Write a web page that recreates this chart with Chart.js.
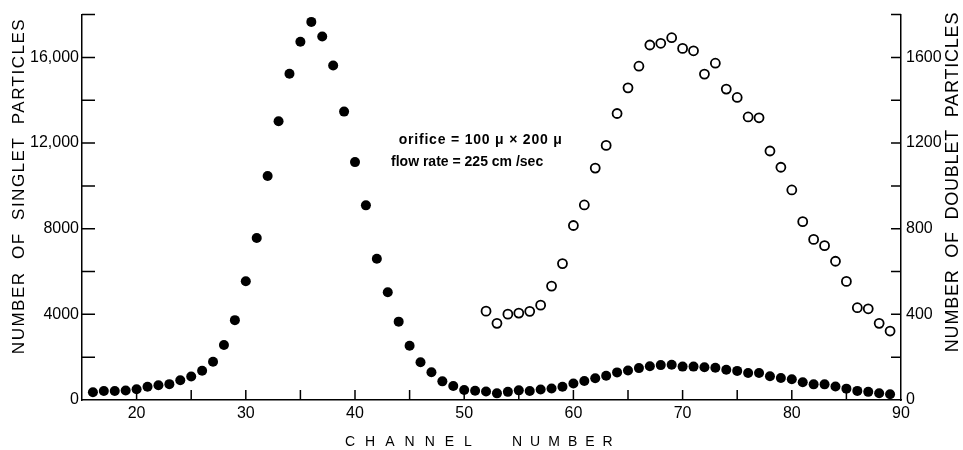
<!DOCTYPE html>
<html>
<head>
<meta charset="utf-8">
<script src="https://cdn.jsdelivr.net/npm/chart.js@4.4.1/dist/chart.umd.min.js"></script>
<style>
    html, body { margin: 0; padding: 0; background: #fff; }
</style>
</head>
<body>
<canvas id="particleChart" width="963" height="450"></canvas>
<script>

const FONT = "'Liberation Sans', Arial, sans-serif";

// singlet particles (filled dots, left axis)
const singletChannels = [16, 17, 18, 19, 20, 21, 22, 23, 24, 25, 26, 27, 28, 29, 30, 31, 32, 33, 34, 35,
    36, 37, 38, 39, 40, 41, 42, 43, 44, 45, 46, 47, 48, 49, 50, 51, 52, 53, 54, 55,
    56, 57, 58, 59, 60, 61, 62, 63, 64, 65, 66, 67, 68, 69, 70, 71, 72, 73, 74, 75,
    76, 77, 78, 79, 80, 81, 82, 83, 84, 85, 86, 87, 88, 89];
const singletCounts = [360, 420, 420, 440, 500, 620, 690, 740, 920, 1100, 1370, 1790, 2570, 3730, 5550, 7570, 10460, 13020, 15240, 16730,
    17660, 16980, 15620, 13470, 11110, 9090, 6600, 5030, 3660, 2530, 1760, 1300, 870, 650, 470, 430, 400, 310, 380, 450,
    420, 490, 540, 620, 770, 890, 1020, 1130, 1290, 1380, 1490, 1580, 1630, 1650, 1560, 1560, 1530, 1510, 1410, 1360,
    1260, 1260, 1110, 1030, 970, 830, 730, 730, 630, 530, 425, 380, 315, 270];

// doublet particles (open circles, right axis)
const doubletChannels = [52, 53, 54, 55, 56, 57, 58, 59, 60, 61, 62, 63, 64, 65, 66, 67, 68, 69, 70,
    71, 72, 73, 74, 75, 76, 77, 78, 79, 80, 81, 82, 83, 84, 85, 86, 87, 88, 89];
const doubletCounts = [415, 358, 401, 406, 414, 443, 532, 637, 815, 911, 1083, 1189, 1338, 1458, 1559, 1658, 1666, 1692, 1642,
    1631, 1522, 1573, 1452, 1413, 1322, 1318, 1163, 1087, 981, 833, 750, 721, 648, 554, 431, 426, 358, 322];

// tick labels
const xTickValues = [20, 30, 40, 50, 60, 70, 80, 90];
const xTickLabels = ["20", "30", "40", "50", "60", "70", "80", "90"];
const leftTickValues = [0, 4000, 8000, 12000, 16000];
const leftTickLabels = ["0", "4000", "8000", "12,000", "16,000"];
const rightTickValues = [0, 400, 800, 1200, 1600];
const rightTickLabels = ["0", "400", "800", "1200", "1600"];

const notes = ["orifice = 100 \u03bc \u00d7 200 \u03bc", "flow rate = 225 cm /sec"];


function toPoints(xs, ys) {
    return xs.map((x, i) => ({ x: x, y: ys[i] }));
}

function pickLabel(values, labels) {
    return function(value) {
        const i = values.indexOf(value);
        return i >= 0 ? labels[i] : "";
    };
}


// ticks in the original point inward, so they are drawn here
const inwardTicks = {
    id: "inwardTicks",
    beforeDatasetsDraw(chart) {
        const { ctx, chartArea } = chart;
        const x = chart.scales.x;
        const yL = chart.scales.yL;
        const yR = chart.scales.yR;

        ctx.save();
        ctx.strokeStyle = "#000";
        ctx.lineWidth = 1.5;
        ctx.beginPath();

        x.ticks.forEach(t => {
            if (t.value <= x.min || t.value >= x.max) return;
            const px = x.getPixelForValue(t.value);
            ctx.moveTo(px, chartArea.bottom);
            ctx.lineTo(px, chartArea.bottom - 10);
        });

        yL.ticks.forEach(t => {
            if (t.value <= yL.min) return;
            const py = yL.getPixelForValue(t.value);
            ctx.moveTo(chartArea.left, py);
            ctx.lineTo(chartArea.left + 13, py);
        });

        yR.ticks.forEach(t => {
            if (t.value <= yR.min) return;
            const py = yR.getPixelForValue(t.value);
            ctx.moveTo(chartArea.right, py);
            ctx.lineTo(chartArea.right - 10, py);
        });

        ctx.stroke();
        ctx.restore();
    }
};


const titlesAndNotes = {
    id: "titlesAndNotes",
    afterDraw(chart) {
        const { ctx } = chart;
        const x = chart.scales.x;
        const yL = chart.scales.yL;

        ctx.save();
        ctx.fillStyle = "#000";
        ctx.textBaseline = "middle";

        // left axis title
        ctx.font = "17px " + FONT;
        ctx.letterSpacing = "1.5px";
        ctx.textAlign = "center";
        ctx.save();
        ctx.translate(19, 186);
        ctx.rotate(-Math.PI / 2);
        ctx.fillText("NUMBER  OF  SINGLET  PARTICLES", 0, 0);
        ctx.restore();

        // right axis title, reads bottom to top like the left one
        ctx.font = "18px " + FONT;
        ctx.letterSpacing = "0.8px";
        ctx.save();
        ctx.translate(953, 182);
        ctx.rotate(-Math.PI / 2);
        ctx.fillText("NUMBER  OF  DOUBLET  PARTICLES", 0, 0);
        ctx.restore();

        // x axis title
        ctx.font = "14px " + FONT;
        ctx.textAlign = "left";
        ctx.letterSpacing = "10px";
        ctx.fillText("CHANNEL", 345, 442);
        ctx.letterSpacing = "8px";
        ctx.fillText("NUMBER", 512, 442);

        // notes inside the plot
        ctx.font = "bold 14px " + FONT;
        ctx.letterSpacing = "0.8px";
        ctx.fillText(notes[0], x.getPixelForValue(44.0), yL.getPixelForValue(12150));
        ctx.letterSpacing = "0px";
        ctx.fillText(notes[1], x.getPixelForValue(43.3), yL.getPixelForValue(11100));

        ctx.restore();
    }
};


const ctx = document.getElementById("particleChart");

new Chart(ctx, {
    type: "scatter",
    data: {
        datasets: [
            {
                label: "Singlet",
                data: toPoints(singletChannels, singletCounts),
                yAxisID: "yL",
                pointRadius: 5,
                pointBackgroundColor: "#000",
                pointBorderColor: "#000",
                pointBorderWidth: 0,
                showLine: false
            },
            {
                label: "Doublet",
                data: toPoints(doubletChannels, doubletCounts),
                yAxisID: "yR",
                pointRadius: 4.5,
                pointBackgroundColor: "#fff",
                pointBorderColor: "#000",
                pointBorderWidth: 1.8,
                showLine: false
            }
        ]
    },
    options: {
        responsive: false,
        animation: false,
        layout: {
            padding: { top: 12, left: 0, right: 0, bottom: 0 }
        },
        plugins: {
            legend: { display: false },
            tooltip: { enabled: false }
        },
        scales: {
            x: {
                type: "linear",
                min: 15,
                max: 90,
                afterFit: scale => { scale.height = 50; },
                border: { display: true, color: "#000", width: 1.5 },
                grid: { display: false, drawTicks: false },
                ticks: {
                    stepSize: 5,
                    autoSkip: false,
                    maxRotation: 0,
                    padding: 4,
                    color: "#000",
                    font: { family: FONT, size: 16 },
                    callback: pickLabel(xTickValues, xTickLabels)
                }
            },
            yL: {
                type: "linear",
                position: "left",
                min: 0,
                max: 18000,
                afterFit: scale => { scale.width = 82; },
                border: { display: true, color: "#000", width: 1.5 },
                grid: { display: false, drawTicks: false },
                ticks: {
                    stepSize: 2000,
                    autoSkip: false,
                    padding: 3,
                    color: "#000",
                    font: { family: FONT, size: 16 },
                    callback: pickLabel(leftTickValues, leftTickLabels)
                }
            },
            yR: {
                type: "linear",
                position: "right",
                min: 0,
                max: 1800,
                afterFit: scale => { scale.width = 62; },
                border: { display: true, color: "#000", width: 1.5 },
                grid: { display: false, drawTicks: false },
                ticks: {
                    stepSize: 200,
                    autoSkip: false,
                    padding: 5,
                    color: "#000",
                    font: { family: FONT, size: 16 },
                    callback: pickLabel(rightTickValues, rightTickLabels)
                }
            }
        }
    },
    plugins: [inwardTicks, titlesAndNotes]
});

</script>
</body>
</html>
